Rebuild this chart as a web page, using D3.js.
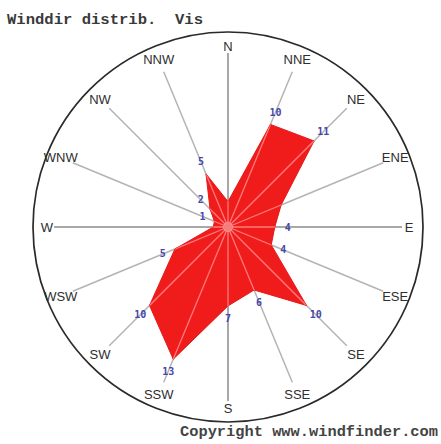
<!DOCTYPE html>
<html>
<head>
<meta charset="utf-8">
<script src="https://cdn.jsdelivr.net/npm/d3@7/dist/d3.min.js"></script>
<style>
  html, body { margin: 0; padding: 0; background: #fff; }
  svg { display: block; }
  .pre { white-space: pre; }
</style>
</head>
<body>
<div id="chart"></div>
<script>
// ---- data ----
const directions = ["N","NNE","NE","ENE","E","ESE","SE","SSE","S","SSW","SW","WSW","W","WNW","NW","NNW"];
const values     = [2, 10, 11, 5, 4, 4, 10, 6, 7, 13, 10, 5, 1, 1, 2, 5];
const showValueLabel = [false,true,true,false,true,true,true,true,true,true,true,true,false,true,true,true];
const title = "Winddir distrib.  Vis";
const copyright = "Copyright www.windfinder.com";

// ---- layout ----
const W = 441, H = 444;
const cx = 228, cy = 227, R = 195;
const spokeR = 168, labelR = 181;

const svg = d3.select("#chart").append("svg").attr("width", W).attr("height", H);

const angle = d3.scaleLinear().domain([0, directions.length]).range([0, 2 * Math.PI]);
const rScale = d3.scaleLinear().domain([0, 10]).range([4, 111]);

const g = svg.append("g").attr("transform", `translate(${cx},${cy})`);

const px = (a, r) => r * Math.sin(a);
const py = (a, r) => -r * Math.cos(a);

// outer circle
g.append("circle").attr("r", R).attr("fill", "none").attr("stroke", "#2a2a2a").attr("stroke-width", 1.7);

// spokes (under polygon)
const spokeEnd = i => (i % 4 === 0 ? 174 : spokeR);
g.append("g").selectAll("line").data(directions).join("line")
  .attr("x1", 0).attr("y1", 0)
  .attr("x2", (d, i) => px(angle(i), spokeEnd(i)))
  .attr("y2", (d, i) => py(angle(i), spokeEnd(i)))
  .attr("stroke", (d, i) => i % 4 === 0 ? "#a8a8a8" : "#b4b4b4")
  .attr("stroke-width", (d, i) => i % 4 === 0 ? 2 : 1.5);

// radar polygon
const radial = d3.lineRadial()
  .angle((d, i) => angle(i))
  .radius(d => rScale(d))
  .curve(d3.curveLinearClosed);
const pathD = radial(values);

svg.append("defs").append("clipPath").attr("id", "polyClip")
  .append("path").attr("d", pathD).attr("transform", `translate(${cx},${cy})`);

g.append("path").attr("d", pathD)
  .attr("fill", "#f01c1c").attr("stroke", "#e81818").attr("stroke-width", 1);

// spokes seen through the polygon (lighter red)
svg.append("g").attr("clip-path", "url(#polyClip)")
  .append("g").attr("transform", `translate(${cx},${cy})`)
  .selectAll("line").data(directions).join("line")
  .attr("x1", 0).attr("y1", 0)
  .attr("x2", (d, i) => px(angle(i), spokeEnd(i)))
  .attr("y2", (d, i) => py(angle(i), spokeEnd(i)))
  .attr("stroke", "#ff7a7a").attr("stroke-width", 1.3);

// centre dot
g.append("circle").attr("r", 4.5).attr("fill", "#8aa68c").attr("stroke", "#c8d0c8").attr("stroke-width", 1);

// direction labels
g.append("g").selectAll("text").data(directions).join("text")
  .attr("x", (d, i) => px(angle(i), labelR))
  .attr("y", (d, i) => py(angle(i), labelR))
  .attr("text-anchor", "middle")
  .attr("dominant-baseline", "central")
  .attr("font-family", "Liberation Sans, Arial, sans-serif")
  .attr("font-size", 13)
  .attr("fill", "#2e2e2e")
  .text(d => d);

// value labels
const vl = g.append("g");
values.forEach((v, i) => {
  if (!showValueLabel[i]) return;
  const a = angle(i);
  const rr = rScale(v) + 13;
  vl.append("text")
    .attr("x", px(a, rr))
    .attr("y", py(a, rr))
    .attr("text-anchor", "middle")
    .attr("dominant-baseline", "central")
    .attr("font-family", "DejaVu Sans Mono, monospace")
    .attr("font-weight", "bold")
    .attr("font-size", 10)
    .attr("fill", "#4646a8")
    .text(v);
});

// title & copyright
svg.append("text").attr("class", "pre").attr("x", 7).attr("y", 24)
  .attr("font-family", "Liberation Mono, DejaVu Sans Mono, monospace")
  .attr("font-weight", "bold").attr("font-size", 14)
  .attr("textLength", 196).attr("lengthAdjust", "spacingAndGlyphs")
  .attr("fill", "#3a3a3a").text(title);

svg.append("text").attr("class", "pre").attr("x", 180).attr("y", 436)
  .attr("font-family", "Liberation Mono, DejaVu Sans Mono, monospace")
  .attr("font-weight", "bold").attr("font-size", 14)
  .attr("textLength", 258).attr("lengthAdjust", "spacingAndGlyphs")
  .attr("fill", "#444").text(copyright);
</script>
</body>
</html>
